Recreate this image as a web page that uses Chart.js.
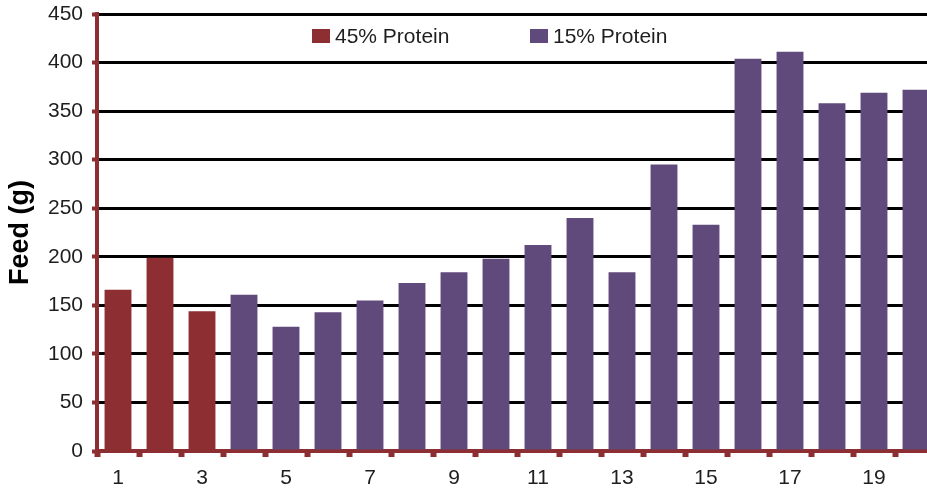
<!DOCTYPE html>
<html>
<head>
<meta charset="utf-8">
<script src="https://cdn.jsdelivr.net/npm/chart.js@4"></script>
<style>
  html, body { margin: 0; padding: 0; background: #fff; overflow: hidden; }
  #wrap { width: 940px; height: 489px; }
</style>
</head>
<body>
<div id="wrap"><canvas id="feedChart"></canvas></div>
<script>
const categories = ["1","2","3","4","5","6","7","8","9","10","11","12","13","14","15","16","17","18","19","20"];
const highProtein = [166, 199, 144, null, null, null, null, null, null, null, null, null, null, null, null, null, null, null, null, null];
const lowProtein = [null, null, null, 161, 128, 143, 155, 173, 184, 198, 212, 240, 184, 295, 233, 404, 411, 358, 369, 372];
const yTicks = [0, 50, 100, 150, 200, 250, 300, 350, 400, 450];

const COLORS = {
  red: "#8d2e32",
  purple: "#604a7b",
  grid: "#000000",
  text: "#1e1e1e",
};
const FONT = "'Liberation Sans', Arial, Helvetica, sans-serif";

// legend sits inside the plot, between the 450 and 400 lines
const inPlotLegend = {
  id: "inPlotLegend",
  afterDraw(chart) {
    const { ctx, chartArea } = chart;
    const slots = [215, 433];
    ctx.save();
    ctx.font = `21px ${FONT}`;
    ctx.textBaseline = "alphabetic";
    chart.data.datasets.forEach((ds, i) => {
      const x = chartArea.left + slots[i];
      const y = chartArea.top + 15;
      ctx.fillStyle = ds.backgroundColor;
      ctx.fillRect(x, y, 18, 14);
      ctx.fillStyle = COLORS.text;
      ctx.fillText(ds.label, x + 23, y + 13.5);
    });
    ctx.restore();
  },
};

new Chart(document.getElementById("feedChart"), {
  type: "bar",
  data: {
    labels: categories,
    datasets: [
      { label: "45% Protein", data: highProtein, backgroundColor: COLORS.red, barPercentage: 0.64, categoryPercentage: 1 },
      { label: "15% Protein", data: lowProtein, backgroundColor: COLORS.purple, barPercentage: 0.64, categoryPercentage: 1 },
    ],
  },
  options: {
    responsive: true,
    maintainAspectRatio: false,
    animation: false,
    layout: { padding: { top: 14, right: 3, left: 0, bottom: 0 } },
    plugins: { legend: { display: false }, tooltip: { enabled: false } },
    scales: {
      x: {
        stacked: true,
        afterFit: (s) => { s.height = 38; s.paddingLeft = 0; s.paddingRight = 0; },
        border: { color: COLORS.red, width: 4 },
        grid: { offset: true, drawOnChartArea: false, drawTicks: true, tickLength: 6, tickColor: COLORS.red, tickWidth: 6 },
        ticks: {
          autoSkip: false,
          maxRotation: 0,
          padding: 9,
          color: COLORS.text,
          font: { family: FONT, size: 21 },
          callback: (v, i) => (i % 2 === 0 ? categories[i] : ""),
        },
      },
      y: {
        stacked: true,
        min: yTicks[0],
        max: yTicks[yTicks.length - 1],
        afterFit: (s) => { s.width = 97; s.paddingTop = 0; s.paddingBottom = 0; },
        afterBuildTicks: (s) => { s.ticks = yTicks.map((v) => ({ value: v })); },
        border: { color: COLORS.red, width: 4 },
        grid: {
          color: (c) => (c.tick && c.tick.value === 0 ? "rgba(0,0,0,0)" : COLORS.grid),
          lineWidth: 3,
          tickLength: 5,
          tickColor: COLORS.red,
          tickWidth: 4,
        },
        ticks: { padding: 9, color: COLORS.text, font: { family: FONT, size: 21 } },
        title: {
          display: true,
          text: "Feed (g)",
          color: "#000",
          padding: { top: 4, bottom: 0 },
          font: { family: FONT, size: 27, weight: "bold" },
        },
      },
    },
  },
  plugins: [inPlotLegend],
});
</script>
</body>
</html>
